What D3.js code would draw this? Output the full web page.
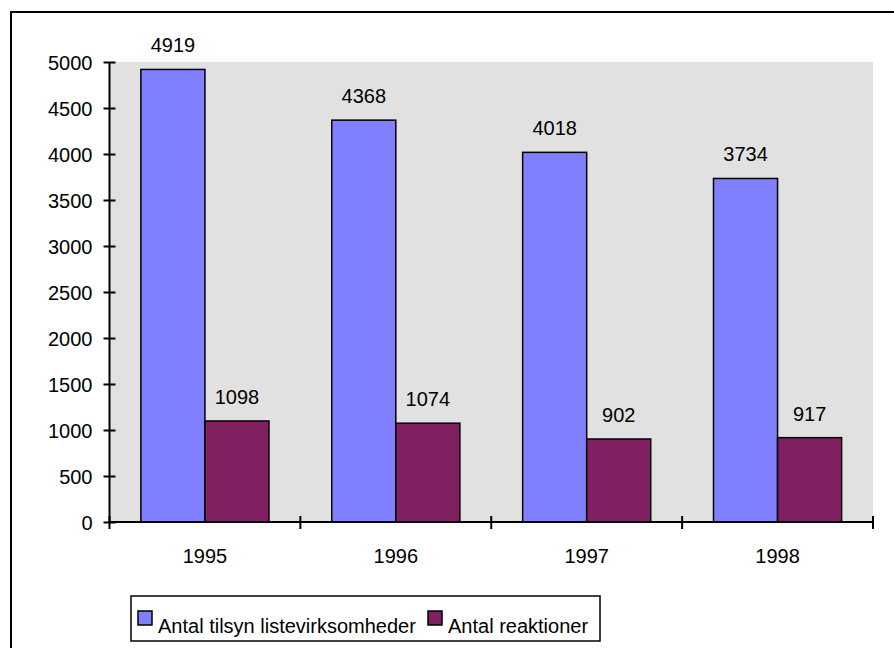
<!DOCTYPE html>
<html>
<head>
<meta charset="utf-8">
<script src="https://cdn.jsdelivr.net/npm/d3@7"></script>
<style>
  html, body { margin: 0; padding: 0; background: #ffffff; }
  svg { display: block; }
  text { font-family: "Liberation Sans", Arial, sans-serif; fill: #000; }
</style>
</head>
<body>
<svg id="chart" width="894" height="648"></svg>
<script>
const categories = ["1995", "1996", "1997", "1998"];
const seriesNames = ["Antal tilsyn listevirksomheder", "Antal reaktioner"];
const tilsynValues = [4919, 4368, 4018, 3734];
const reaktionerValues = [1098, 1074, 902, 917];
const yTicks = [0, 500, 1000, 1500, 2000, 2500, 3000, 3500, 4000, 4500, 5000];
const colors = ["#8080ff", "#802060"];

const seriesValues = [tilsynValues, reaktionerValues];
const svg = d3.select("#chart");

// outer frame
svg.append("rect")
  .attr("x", 11).attr("y", 12).attr("width", 900).attr("height", 700)
  .attr("fill", "none").attr("stroke", "#000").attr("stroke-width", 2);

const plot = { left: 109.5, right: 873, top: 62, bottom: 522 };

const x0 = d3.scaleBand().domain(categories).range([plot.left, plot.right]).paddingInner(0).paddingOuter(0);
const x1 = d3.scaleBand().domain(seriesNames).range([0, x0.bandwidth()]).paddingInner(0).paddingOuter(0.49);
const y = d3.scaleLinear().domain([0, 5000]).range([plot.bottom, plot.top]);

// plot background
svg.append("rect")
  .attr("x", plot.left).attr("y", plot.top)
  .attr("width", plot.right - plot.left).attr("height", plot.bottom - plot.top)
  .attr("fill", "#e1e1e1");

// bars
const groups = svg.append("g").selectAll("g")
  .data(categories).join("g")
  .attr("transform", d => `translate(${x0(d)},0)`);

groups.selectAll("rect")
  .data((c, i) => seriesNames.map((s, k) => ({ s, k, v: seriesValues[k][i] })))
  .join("rect")
  .attr("x", d => x1(d.s))
  .attr("y", d => y(d.v))
  .attr("width", x1.bandwidth())
  .attr("height", d => y(0) - y(d.v))
  .attr("fill", d => colors[d.k])
  .attr("stroke", "#000")
  .attr("stroke-width", 1.5);

groups.selectAll("text.val")
  .data((c, i) => seriesNames.map((s, k) => ({ s, k, v: seriesValues[k][i] })))
  .join("text")
  .attr("class", "val")
  .attr("x", d => x1(d.s) + x1.bandwidth() / 2)
  .attr("y", d => y(d.v) - 17)
  .attr("text-anchor", "middle")
  .attr("font-size", 20)
  .text(d => d.v);

// y axis
const yAxis = d3.axisLeft(y).tickValues(yTicks).tickSize(6).tickPadding(11).tickFormat(d3.format("d"));
const gy = svg.append("g").attr("transform", `translate(${plot.left},0)`).call(yAxis);
gy.select(".domain").attr("stroke", "#000").attr("stroke-width", 2).attr("d", `M0,${plot.top}V${plot.bottom}`);
gy.selectAll(".tick line").attr("x1", -6).attr("x2", 6).attr("stroke", "#000").attr("stroke-width", 2);
gy.selectAll(".tick text").attr("font-size", 20).attr("font-family", "Liberation Sans, Arial, sans-serif").attr("fill", "#000").attr("dy", "0.35em");

// x axis
const xAxis = d3.axisBottom(x0).tickSize(0).tickPadding(27);
const gx = svg.append("g").attr("transform", `translate(0,${plot.bottom})`).call(xAxis);
gx.select(".domain").attr("stroke", "#000").attr("stroke-width", 2).attr("d", `M${plot.left},0H${plot.right}`);
gx.selectAll(".tick text").attr("font-size", 20).attr("font-family", "Liberation Sans, Arial, sans-serif").attr("fill", "#000");
// category boundary ticks
const bounds = categories.map(c => x0(c)).concat([x0(categories[categories.length - 1]) + x0.bandwidth()]);
gx.selectAll("line.bound").data(bounds).join("line")
  .attr("class", "bound")
  .attr("x1", d => d).attr("x2", d => d)
  .attr("y1", -6).attr("y2", 7)
  .attr("stroke", "#000").attr("stroke-width", 2);

// legend
const legend = svg.append("g");
legend.append("rect")
  .attr("x", 131).attr("y", 596).attr("width", 469).attr("height", 45)
  .attr("fill", "#fff").attr("stroke", "#000").attr("stroke-width", 1.5);
const legendX = [138, 428];
seriesNames.forEach((s, k) => {
  legend.append("rect")
    .attr("x", legendX[k]).attr("y", 611).attr("width", 14).attr("height", 14)
    .attr("fill", colors[k]).attr("stroke", "#000").attr("stroke-width", 1.5);
  legend.append("text")
    .attr("x", legendX[k] + 20).attr("y", 633)
    .attr("font-size", 20)
    .text(s);
});
</script>
</body>
</html>
